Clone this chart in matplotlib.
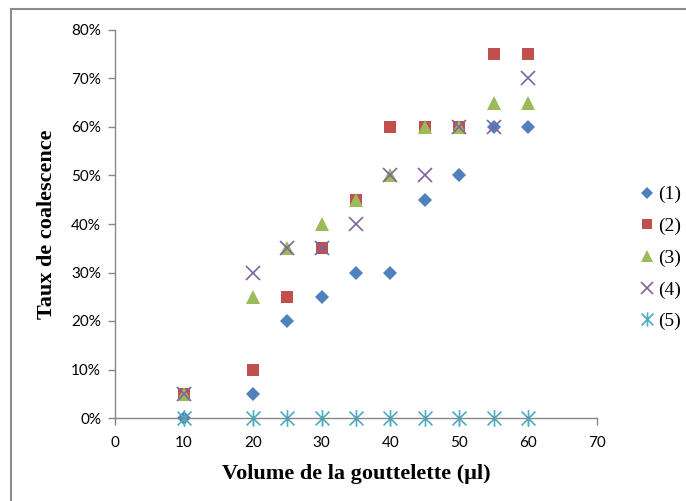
import matplotlib
matplotlib.use("Agg")
import matplotlib.pyplot as plt
from matplotlib.path import Path
from matplotlib.ticker import FuncFormatter
from matplotlib.lines import Line2D

volumes = [10, 20, 25, 30, 35, 40, 45, 50, 55, 60]
s1 = [0, 5, 20, 25, 30, 30, 45, 50, 60, 60]
s2 = [5, 10, 25, 35, 45, 60, 60, 60, 75, 75]
s3 = [5, 25, 35, 40, 45, 50, 60, 60, 65, 65]
s4 = [5, 30, 35, 35, 40, 50, 50, 60, 60, 70]
s5 = [0, 0, 0, 0, 0, 0, 0, 0, 0, 0]
labels = ["(1)", "(2)", "(3)", "(4)", "(5)"]
x_ticks = [0, 10, 20, 30, 40, 50, 60, 70]
y_ticks = [0, 10, 20, 30, 40, 50, 60, 70, 80]

# asterisk: X plus vertical line
ast = Path([(-0.5, -0.5), (0.5, 0.5), (-0.5, 0.5), (0.5, -0.5), (0, -0.6), (0, 0.6)],
           [Path.MOVETO, Path.LINETO, Path.MOVETO, Path.LINETO, Path.MOVETO, Path.LINETO])

fig = plt.figure(figsize=(6.86, 5.01), dpi=100)
ax = fig.add_axes([115/686, 83/501, 482/686, 388/501])

styles = [
    dict(marker="D", color="#4F81BD", ms=7, mew=0),
    dict(marker="s", color="#C0504D", ms=9, mew=0),
    dict(marker="^", color="#9BBB59", ms=10, mew=0),
    dict(marker="x", color="#8064A2", ms=10, mew=1.2),
    dict(marker=ast, color="#4BACC6", ms=12, mew=1.2),
]
series = [s1, s2, s3, s4, s5]
handles = []
for ys, st, lab in zip(series, styles, labels):
    ln, = ax.plot(volumes, ys, linestyle="none", marker=st["marker"], color=st["color"],
                  markersize=st["ms"], markeredgewidth=st["mew"], label=lab, clip_on=False)
    handles.append(ln)

ax.set_xlim(0, 70)
ax.set_ylim(0, 80)
ax.set_xticks(x_ticks)
ax.set_yticks(y_ticks)
ax.yaxis.set_major_formatter(FuncFormatter(lambda v, p: f"{int(v)}%"))
for sp in ["top", "right"]:
    ax.spines[sp].set_visible(False)
for sp in ["left", "bottom"]:
    ax.spines[sp].set_color("#868686")
    ax.spines[sp].set_linewidth(1.0)
ax.tick_params(axis="both", direction="out", length=5, width=1, color="#868686",
               labelsize=11, labelcolor="black", pad=5)
for t in ax.get_xticklabels() + ax.get_yticklabels():
    t.set_fontfamily("Lato")
ax.tick_params(axis="x", pad=8)

ax.set_xlabel("Volume de la gouttelette (µl)", fontfamily="Liberation Serif",
              fontweight="bold", fontsize=16, labelpad=10)
ax.set_ylabel("Taux de coalescence", fontfamily="Liberation Serif",
              fontweight="bold", fontsize=16, labelpad=10)

leg = fig.legend(handles=handles, labels=labels, loc="center left",
                 bbox_to_anchor=(630/686, 1 - 258/501), frameon=False,
                 prop={"family": "Liberation Serif", "size": 14},
                 handlelength=0.7, handletextpad=0.25, labelspacing=0.72, borderpad=0,
                 markerscale=0.85)

# chart border (visible on left and top)
fig.add_artist(Line2D([11/686, 11/686], [0, 1 - 9/501], transform=fig.transFigure,
                      color="#8c8c8c", lw=1.5))
fig.add_artist(Line2D([11/686, 1], [1 - 9/501, 1 - 9/501], transform=fig.transFigure,
                      color="#8c8c8c", lw=1.5))

fig.savefig("out.png", dpi=100)
